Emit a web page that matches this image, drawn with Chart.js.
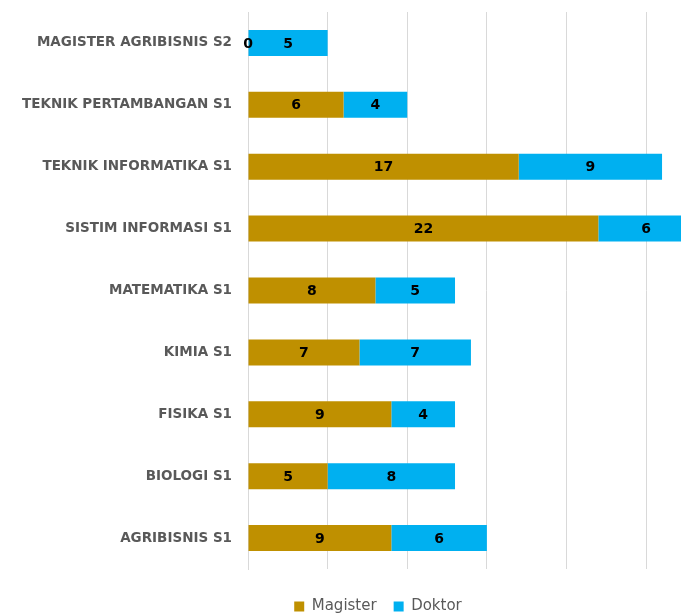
<!DOCTYPE html>
<html>
<head>
<meta charset="utf-8">
<script src="https://cdn.jsdelivr.net/npm/chart.js@4"></script>
<style>
  html, body { margin: 0; padding: 0; background: #fff; overflow: hidden; }
  #wrap { width: 756px; height: 624px; }
</style>
</head>
<body>
<div id="wrap"><canvas id="chart"></canvas></div>
<script>
const PROGRAMS = [
  'MAGISTER AGRIBISNIS S2',
  'TEKNIK PERTAMBANGAN S1',
  'TEKNIK INFORMATIKA S1',
  'SISTIM INFORMASI S1',
  'MATEMATIKA S1',
  'KIMIA S1',
  'FISIKA S1',
  'BIOLOGI S1',
  'AGRIBISNIS S1',
];
const MAGISTER = [0, 6, 17, 22, 8, 7, 9, 5, 9];
const DOKTOR   = [5, 4, 9, 6, 5, 7, 4, 8, 6];

const GREY = '#595959';
const GRID = '#d9d9d9';

// ── Labels in the middle of each segment ─────────────────────────────────────

const barLabels = {
  id: 'barLabels',
  afterDatasetsDraw(chart) {
    const ctx = chart.ctx;
    ctx.save();
    ctx.fillStyle = '#000';
    ctx.font = 'bold 14px "DejaVu Sans", sans-serif';
    ctx.textAlign = 'center';
    ctx.textBaseline = 'middle';
    chart.data.datasets.forEach((ds, i) => {
      chart.getDatasetMeta(i).data.forEach((bar, j) => {
        const { x, base, y } = bar.getProps(['x', 'base', 'y'], true);
        ctx.fillText(String(ds.data[j]), (x + base) / 2, y + 1);
      });
    });
    ctx.restore();
  },
};

new Chart(document.getElementById('chart'), {
  type: 'bar',
  data: {
    labels: PROGRAMS,
    datasets: [
      { label: 'Magister', data: MAGISTER, backgroundColor: '#BF9000' },
      { label: 'Doktor',   data: DOKTOR,   backgroundColor: '#00B0F0' },
    ],
  },
  options: {
    indexAxis: 'y',
    responsive: true,
    maintainAspectRatio: false,
    animation: false,
    layout: { padding: { top: 12, right: 0, left: 0, bottom: 0 } },
    datasets: { bar: { categoryPercentage: 0.84, barPercentage: 0.5 } },
    plugins: {
      tooltip: { enabled: false },
      legend: {
        position: 'bottom',
        labels: {
          color: GREY,
          font: { family: '"DejaVu Sans", sans-serif', size: 15 },
          boxWidth: 10,
          boxHeight: 10,
          padding: 17,
        },
      },
    },
    scales: {
      x: {
        stacked: true,
        min: 0,
        max: 31.9,
        ticks: { display: false, stepSize: 5 },
        grid: { color: GRID, drawTicks: false },
        border: { display: false },
        afterFit: s => { s.height = 13; },
      },
      y: {
        stacked: true,
        ticks: {
          color: GREY,
          padding: 16,
          font: { family: '"DejaVu Sans", sans-serif', size: 13.5, weight: 'bold' },
        },
        grid: { display: false, drawTicks: false },
        border: { color: GRID },
        afterFit: s => {
          s.width = 248;
          s.paddingTop = 0;
          s.paddingBottom = 0;
        },
      },
    },
  },
  plugins: [barLabels],
});
</script>
</body>
</html>
